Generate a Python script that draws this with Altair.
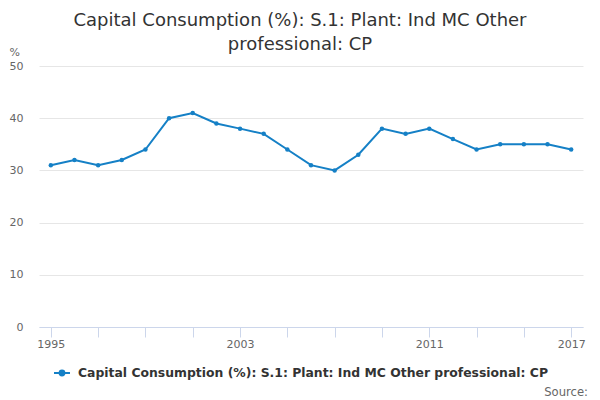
import altair as alt
import pandas as pd

years = list(range(1995, 2018))
values = [31, 32, 31, 32, 34, 40, 41, 39, 38, 37, 34, 31, 30, 33, 38, 37, 38, 36, 34, 35, 35, 35, 34]
series_name = "Capital Consumption (%): S.1: Plant: Ind MC Other professional: CP"
title_lines = ["Capital Consumption (%): S.1: Plant: Ind MC Other", "professional: CP"]
tick_years = list(range(1995, 2018, 2))
label_years = [1995, 2003, 2011, 2017]
y_ticks = [0, 10, 20, 30, 40, 50]
source_text = ["Source:"]

df = pd.DataFrame({"year": years, "value": values, "series": [series_name] * len(years)})
src = pd.DataFrame({"t": source_text})

COLOR = "#1580c6"
FONT = "DejaVu Sans"

x_enc = alt.X(
    "year:Q",
    scale=alt.Scale(domain=[1994.5, 2017.5], nice=False, zero=False),
    axis=alt.Axis(
        values=tick_years,
        labelExpr="indexof(" + str(label_years) + ", datum.value) >= 0 ? toString(datum.value) : ''",
        title=None,
        grid=False,
        domainColor="#ccd6eb",
        tickColor="#ccd6eb",
        tickSize=10,
        labelPadding=1,
        labelFont=FONT,
        labelFontSize=11,
        labelColor="#666666",
        labelOverlap=False,
        labelFlush=False,
    ),
)
y_enc = alt.Y(
    "value:Q",
    scale=alt.Scale(domain=[0, 50], nice=False),
    axis=alt.Axis(
        values=y_ticks,
        title="%",
        titleAngle=0,
        titleX=-30,
        titleY=-14,
        titleAlign="left",
        titleBaseline="middle",
        titleFont=FONT,
        titleFontSize=11,
        titleFontWeight="normal",
        titleColor="#666666",
        grid=True,
        gridColor="#e6e6e6",
        domain=False,
        ticks=False,
        tickSize=0,
        labelPadding=16,
        labelFont=FONT,
        labelFontSize=11,
        labelColor="#666666",
        labelBaseline="middle",
    ),
)

color_enc = alt.Color(
    "series:N",
    scale=alt.Scale(range=[COLOR]),
    legend=alt.Legend(
        title=None,
        orient="none",
        legendX=14,
        legendY=298,
        symbolType="M-1,0H1M-0.3,0A0.3,0.3 0 1,0 0.3,0A0.3,0.3 0 1,0 -0.3,0Z",
        symbolSize=256,
        symbolStrokeWidth=2,
        symbolFillColor=COLOR,
        symbolStrokeColor=COLOR,
        labelFont=FONT,
        labelFontSize=12.4,
        labelFontWeight="bold",
        labelColor="#333333",
        labelOffset=7,
        labelLimit=0,
        padding=0,
    ),
)

line = alt.Chart(df).mark_line(strokeWidth=2).encode(x=x_enc, y=y_enc, color=color_enc)
pts = alt.Chart(df).mark_circle(size=20, opacity=1).encode(x="year:Q", y="value:Q", color=alt.Color("series:N", legend=None))
source = alt.Chart(src).mark_text(
    align="right", baseline="middle", font=FONT, fontSize=11.6, color="#666666"
).encode(text="t:N", x=alt.value(549), y=alt.value(327))

chart = alt.layer(line, pts, source).properties(
    width=544,
    height=261,
    padding={"left": 31, "top": 58, "right": 9, "bottom": 73},
    autosize=alt.AutoSizeParams(type="none"),
    title=alt.TitleParams(
        text=title_lines,
        anchor="middle",
        frame="group",
        dx=-11,
        offset=-8,
        font=FONT,
        fontSize=18,
        fontWeight="normal",
        color="#333333",
        lineHeight=24,
    ),
).configure_view(stroke=None)

chart.save("out.html", embed_options={"renderer": "svg", "actions": False})
